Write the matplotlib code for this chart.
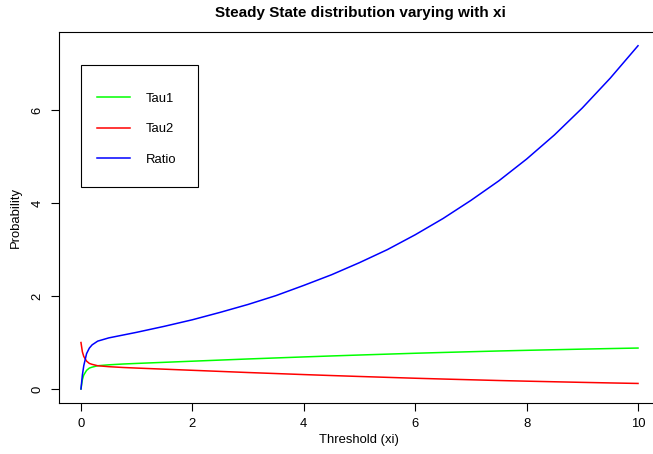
import numpy as np
import matplotlib
matplotlib.use("Agg")
import matplotlib.pyplot as plt
from matplotlib.patches import Rectangle

plt.rcParams['font.family'] = ['Liberation Sans', 'DejaVu Sans']

# threshold grid and steady-state values
xi = [0, 0.025, 0.05, 0.1, 0.15, 0.2, 0.3, 0.5, 0.75, 1.0,
      1.5, 2.0, 2.5, 3.0, 3.5, 4.0, 4.5, 5.0, 5.5, 6.0,
      6.5, 7.0, 7.5, 8.0, 8.5, 9.0, 9.5, 10.0]
tau1 = [0.0, 0.20, 0.30, 0.40, 0.45, 0.47, 0.50, 0.52, 0.537, 0.55,
        0.574, 0.598, 0.622, 0.646, 0.668, 0.690, 0.711, 0.731, 0.750, 0.769,
        0.786, 0.802, 0.818, 0.832, 0.845, 0.858, 0.870, 0.881]
tau2 = [1.0, 0.80, 0.70, 0.60, 0.55, 0.53, 0.50, 0.48, 0.463, 0.45,
        0.426, 0.402, 0.378, 0.354, 0.332, 0.310, 0.289, 0.269, 0.250, 0.231,
        0.214, 0.198, 0.182, 0.168, 0.155, 0.142, 0.130, 0.119]
ratio = [0.0, 0.30, 0.50, 0.76, 0.88, 0.95, 1.03, 1.10, 1.16, 1.22,
         1.35, 1.49, 1.65, 1.82, 2.01, 2.23, 2.46, 2.72, 3.00, 3.32,
         3.67, 4.06, 4.48, 4.95, 5.47, 6.05, 6.69, 7.39]

series = [("Tau1", tau1, "#00FF00"), ("Tau2", tau2, "#FF0000"), ("Ratio", ratio, "#0000FF")]

fs = 9.4

fig = plt.figure(figsize=(6.53, 4.54), dpi=100)
fig.patch.set_facecolor('white')
ax = fig.add_axes([58.7 / 653, 1 - 402.7 / 454, 601.6 / 653, 370.7 / 454])

for name, vals, col in series:
    ax.plot(xi, vals, color=col, linewidth=1.1, label=name)

# R-style ranges with 4% padding
ymax = max(ratio)
ax.set_xlim(-0.4, 10.4)
ax.set_ylim(-0.04 * ymax, ymax * 1.04)

ax.set_xticks([0, 2, 4, 6, 8, 10])
ax.set_yticks([0, 2, 4, 6])
ax.tick_params(axis='both', direction='out', length=6, width=0.8, labelsize=fs,
               color='black', labelcolor='black', pad=5)
for lab in ax.get_yticklabels():
    lab.set_rotation(90)
    lab.set_va('center')
for sp in ax.spines.values():
    sp.set_linewidth(0.8)
    sp.set_color('black')

# axis titles sit on the visible part of the page
fig.text(359 / 653, 1 - 440 / 454, 'Threshold (xi)', fontsize=fs, ha='center', va='center')
fig.text(16 / 653, 1 - 217 / 454, 'Probability', fontsize=fs, ha='center', va='center',
         rotation=90)
fig.text(360 / 653, 1 - 13 / 454, 'Steady State distribution varying with xi',
         fontsize=11, fontweight='bold', ha='center', va='center')

# legend box
ax.add_patch(Rectangle((0.0371, 0.582), 0.1945, 0.329, transform=ax.transAxes,
                       fill=False, edgecolor='black', linewidth=0.8, zorder=5))
leg = ax.legend(loc='upper left', bbox_to_anchor=(0.0637, 0.837), frameon=False,
                fontsize=fs, borderpad=0, borderaxespad=0, handlelength=2.55,
                handletextpad=1.2, labelspacing=1.42)

fig.savefig('out.png', dpi=100)
